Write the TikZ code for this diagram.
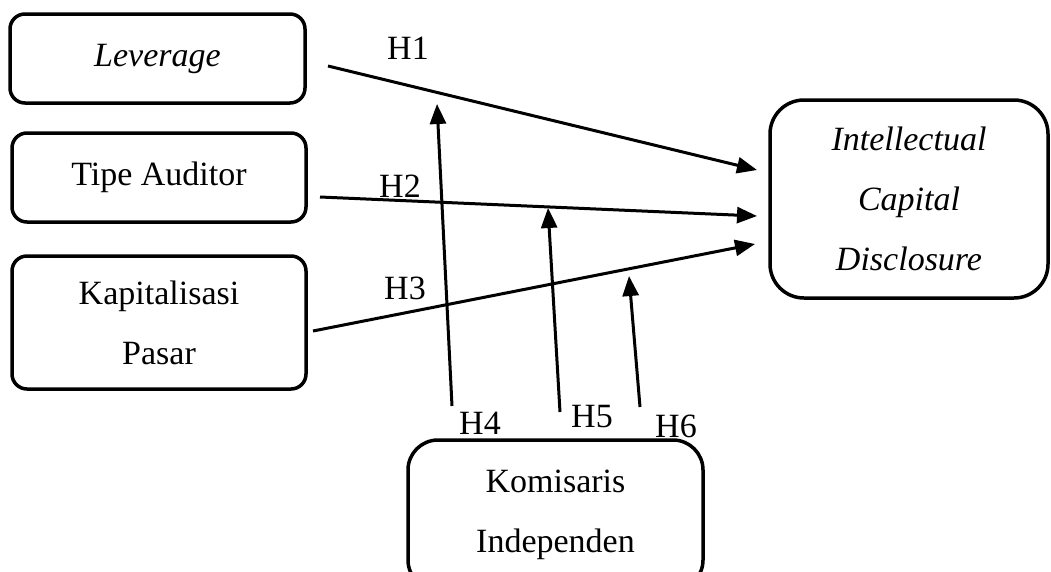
\documentclass[tikz,border=0pt]{standalone}
\usepackage{fontspec}
\setmainfont{Liberation Serif}
\usetikzlibrary{arrows.meta}

\begin{document}
\begin{tikzpicture}[x=1pt,y=-1pt,
  box/.style={draw,line width=3.5pt,rounded corners=15pt,align=center,
    inner sep=0pt,font=\fontsize{34}{60}\selectfont},
  hyp/.style={line width=3pt,-{Triangle[length=20pt,width=16pt]}},
  lbl/.style={font=\fontsize{34}{40}\selectfont}]
  \clip (0,0) rectangle (1051,571);
  % Variables
  \node[box,minimum width=295pt,minimum height=89pt] (lev) at (157.5,58.5) {\textit{Leverage}};
  \node[box,minimum width=294pt,minimum height=89pt] (aud) at (159,177.5) {Tipe Auditor};
  \node[box,minimum width=294pt,minimum height=133pt] (kap) at (159,322.5) {Kapitalisasi\\Pasar};
  \node[box,rounded corners=34pt,minimum width=278pt,minimum height=198pt] (icd) at (909,199)
    {\textit{Intellectual}\\\textit{Capital}\\\textit{Disclosure}};
  \node[box,rounded corners=30pt,minimum width=295pt,minimum height=150pt] (kom) at (555.5,515)
    {Komisaris\\Independen};
  % Arrow ends
  \coordinate (h1a) at (328,66);  \coordinate (h1b) at (757,170);
  \coordinate (h2a) at (320,197); \coordinate (h2b) at (757,216);
  \coordinate (h3a) at (313,331); \coordinate (h3b) at (755,244);
  \coordinate (h4a) at (452,406); \coordinate (h4b) at (437,104);
  \coordinate (h5a) at (560,412); \coordinate (h5b) at (548,208);
  \coordinate (h6a) at (640,407); \coordinate (h6b) at (629,276);
  \draw[hyp] (h1a) -- (h1b);
  \draw[hyp] (h2a) -- (h2b);
  \draw[hyp] (h3a) -- (h3b);
  \draw[hyp] (h4a) -- (h4b);
  \draw[hyp] (h5a) -- (h5b);
  \draw[hyp] (h6a) -- (h6b);
  % Labels
  \node[lbl] (l1) at (408,48) {H1};
  \node[lbl] (l2) at (400,186) {H2};
  \node[lbl] (l3) at (405,288) {H3};
  \node[lbl] (l4) at (480,423) {H4};
  \node[lbl] (l5) at (592,417) {H5};
  \node[lbl] (l6) at (676,426) {H6};
\end{tikzpicture}
\end{document}
